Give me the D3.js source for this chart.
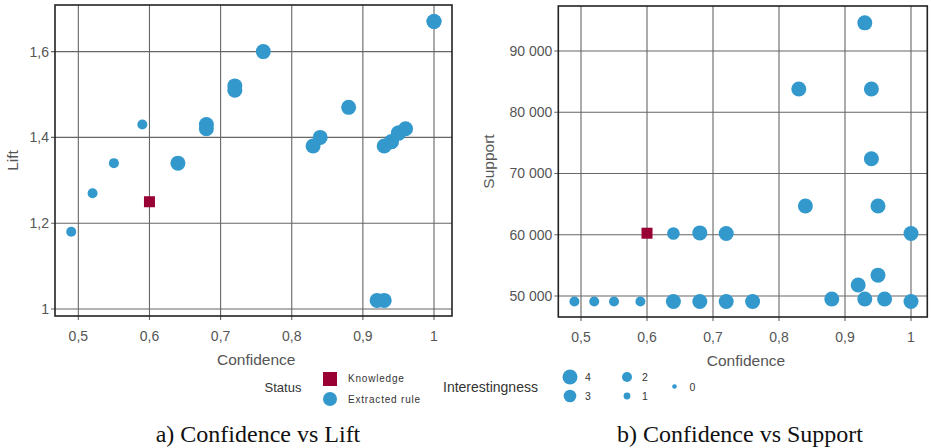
<!DOCTYPE html>
<html><head><meta charset="utf-8">
<script src="https://cdn.jsdelivr.net/npm/d3@7/dist/d3.min.js"></script>
<style>body{margin:0;background:#fff}svg{display:block}</style>
</head><body>
<script>
// ---- data ----
const confidence = [0.49,0.52,0.55,0.59,0.64,0.64,0.68,0.68,0.72,0.72,0.76,0.83,0.84,0.88,0.92,0.93,0.93,0.94,0.94,0.95,0.95,0.96,1.00,1.00];
const lift       = [1.18,1.27,1.34,1.43,1.34,1.34,1.43,1.42,1.52,1.51,1.60,1.38,1.40,1.47,1.02,1.02,1.38,1.39,1.39,1.41,1.41,1.42,1.67,1.67];
const support    = [49100,49100,49100,49100,60200,49100,60300,49100,60200,49100,49100,83800,64700,49500,51800,94600,49500,83800,72400,64700,53400,49500,60200,49100];
const interest   = [2,2,2,2,3,4,4,4,4,4,4,4,4,4,4,4,4,4,4,4,4,4,4,4];
const knowledge  = {confidence:0.60, lift:1.25, support:60250};
const confTicks = [0.5,0.6,0.7,0.8,0.9,1];
const liftTicks = [1,1.2,1.4,1.6];
const suppTicks = [50000,60000,70000,80000,90000];
const interestLevels = [4,3,2,1,0];
const captions = ["a) Confidence vs Lift","b) Confidence vs Support"];

const rules = confidence.map((c,i)=>({c, l:lift[i], s:support[i], k:interest[i]}));
const BLUE = "#3399cc", RED = "#990033";
const W = 931, H = 448;
const svg = d3.select("body").append("svg").attr("width",W).attr("height",H);
const rScale = d3.scaleLinear().domain([0,1,2,3,4]).range([2.3,3.4,5,6.3,7.5]);
const commaFmt = v => String(+v.toFixed(2)).replace(".",",");
const spaceFmt = v => d3.format(",")(v).replace(/,/g," ");
const FONT = "Liberation Sans, Arial, sans-serif";

function panel(opt){
  const x = d3.scaleLinear().domain(opt.xd).range([opt.x0,opt.x1]);
  const y = d3.scaleLinear().domain(opt.yd).range([opt.y1,opt.y0]);
  const g = svg.append("g");
  g.selectAll("line.vx").data(confTicks).join("line")
    .attr("x1",d=>x(d)).attr("x2",d=>x(d)).attr("y1",opt.y0).attr("y2",opt.y1+4)
    .attr("stroke","#666").attr("stroke-width",1.1);
  g.selectAll("line.hy").data(opt.yt).join("line")
    .attr("y1",d=>y(d)).attr("y2",d=>y(d)).attr("x1",opt.x0-4).attr("x2",opt.x1)
    .attr("stroke","#666").attr("stroke-width",1.1);
  g.append("rect").attr("x",opt.x0).attr("y",opt.y0).attr("width",opt.x1-opt.x0).attr("height",opt.y1-opt.y0)
    .attr("fill","none").attr("stroke","#222").attr("stroke-width",1.6);
  g.selectAll("text.xt").data(confTicks).join("text")
    .attr("x",d=>x(d)).attr("y",opt.y1+25).attr("text-anchor","middle")
    .attr("font-family",FONT).attr("font-size",14).attr("fill","#555").text(commaFmt);
  g.selectAll("text.yt").data(opt.yt).join("text")
    .attr("x",opt.x0-6).attr("y",d=>y(d)+5).attr("text-anchor","end")
    .attr("font-family",FONT).attr("font-size",14).attr("fill","#555").text(opt.yf);
  g.append("text").attr("x",(x(0.5)+x(1))/2).attr("y",opt.y1+49).attr("text-anchor","middle")
    .attr("font-family",FONT).attr("font-size",15.5).attr("fill","#555").text("Confidence");
  g.append("text").attr("transform",`translate(${opt.ytx},${(opt.y0+opt.y1)/2}) rotate(-90)`)
    .attr("text-anchor","middle").attr("dy","0.35em")
    .attr("font-family",FONT).attr("font-size",15.5).attr("fill","#555").text(opt.ytitle);
  g.selectAll("circle.p").data(rules).join("circle")
    .attr("cx",d=>x(d.c)).attr("cy",d=>y(opt.yv(d))).attr("r",d=>rScale(d.k)).attr("fill",BLUE);
  const kx = x(knowledge.confidence), ky = y(opt.yk);
  g.append("rect").attr("x",kx-5.5).attr("y",ky-5.5).attr("width",11).attr("height",11).attr("fill",RED);
  svg.append("text").attr("x",opt.cap).attr("y",442).attr("text-anchor","middle")
    .attr("font-family","Liberation Serif, Times New Roman, serif").attr("font-size",24).attr("fill","#111").text(opt.caption);
}

panel({x0:55,x1:452,y0:5,y1:316, xd:[0.4672,1.0253], yd:[0.9837,1.7086], yt:liftTicks, yf:commaFmt,
  ytitle:"Lift", ytx:13, yv:d=>d.l, yk:knowledge.lift, cap:258, caption:captions[0]});
panel({x0:558.3,x1:927.3,y0:6,y1:317, xd:[0.4656,1.0247], yd:[46571,97347], yt:suppTicks, yf:spaceFmt,
  ytitle:"Support", ytx:489, yv:d=>d.s, yk:knowledge.support, cap:740, caption:captions[1]});

// legend
const lg = svg.append("g");
lg.append("text").attr("x",283).attr("y",392).attr("text-anchor","middle")
  .attr("font-family",FONT).attr("font-size",13).attr("fill","#333").text("Status");
lg.append("rect").attr("x",323).attr("y",372).attr("width",14).attr("height",14).attr("fill",RED);
lg.append("circle").attr("cx",330).attr("cy",399).attr("r",7).attr("fill",BLUE);
lg.append("text").attr("x",348).attr("y",382).attr("font-family",FONT).attr("font-size",10)
  .attr("letter-spacing","0.8px").attr("fill","#333").text("Knowledge");
lg.append("text").attr("x",348).attr("y",403).attr("font-family",FONT).attr("font-size",10)
  .attr("letter-spacing","0.8px").attr("fill","#333").text("Extracted rule");
lg.append("text").attr("x",443).attr("y",392)
  .attr("font-family",FONT).attr("font-size",14).attr("fill","#333").text("Interestingness");
const legPos = {4:[570,377],3:[570,396],2:[627,377],1:[627,396],0:[674.5,386.5]};
interestLevels.forEach(k=>{
  const [cx,cy] = legPos[k];
  lg.append("circle").attr("cx",cx).attr("cy",cy).attr("r",rScale(k)).attr("fill",BLUE);
  lg.append("text").attr("x",cx+15).attr("y",cy+4).attr("font-family",FONT).attr("font-size",10.5)
    .attr("fill","#333").text(k);
});
</script>
</body></html>
